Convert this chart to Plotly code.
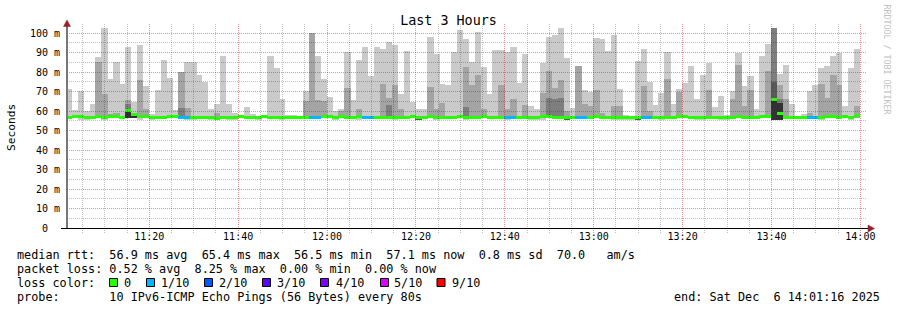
import math
import pandas as pd
import plotly.graph_objects as go

# ---------------- data ----------------
START = "2025-12-06 11:01:16"
END = "2025-12-06 14:01:16"
STEP_S = 80  # one probe round every 80 s

# highest ping of each round (outer smoke band)
ping_max = [
    71.5, 60.3, 70.1, 59.8, 63.7, 87.9, 102.8, 76.6, 85.0, 74.0,
    93.0, 64.4, 94.0, 73.0, 58.4, 70.6, 86.4, 77.1, 60.3, 80.0,
    85.0, 85.0, 78.7, 75.0, 61.2, 63.7, 88.4, 63.7, 59.0, None,
    62.0, 58.6, 57.5, None, 88.4, 82.3, 66.3, 58.0, 58.0, None,
    70.4, 99.9, 88.0, 76.6, 67.2, 60.0, 61.0, 90.5, 65.8, 86.4,
    93.0, 78.1, 93.0, 92.0, 95.6, 94.0, 68.9, 91.0, 64.8, 61.0,
    61.0, 97.7, 89.0, 74.0, 73.5, 90.5, 101.3, 96.7, 85.3, 100.3,
    82.8, 68.9, 91.5, 91.5, 90.5, 93.0, 74.5, 89.0, 62.6, 61.0,
    84.8, 97.7, 99.2, 102.8, 87.4, 61.7, 83.3, 71.0, 70.0, 97.2,
    96.7, 91.0, 99.2, 71.5, 58.0, 57.5, 85.9, 92.0, 75.0, 63.2,
    69.4, 90.5, 63.7, 71.5, 74.5, 83.3, 66.3, 78.7, 84.8, 62.2,
    67.9, 58.0, 70.4, 90.0, 73.0, 78.1, 61.2, 88.4, 94.6, 102.8,
    79.2, 83.8, 63.7, None, 58.5, 70.4, 73.5, 82.3, 83.3, 88.0,
    90.0, 62.7, 82.3, 92.0,
]
# second highest ping (second smoke band)
ping_p9 = [
    None, None, None, None, None, 85.0, 68.9, 58.6, 59.0, None,
    65.8, None, 76.0, 61.2, None, None, None, None, None, 80.0,
    61.7, None, None, None, None, 59.0, None, None, None, None,
    None, None, None, None, None, None, None, None, None, None,
    65.0, 99.9, 65.8, 65.3, None, None, 60.0, 72.0, None, 61.0,
    None, None, None, 74.0, 66.8, 73.5, 61.0, None, None, None,
    None, 72.5, 61.0, 64.0, None, None, None, 82.8, 73.5, 78.7,
    61.2, None, None, 73.5, 61.0, 66.3, None, 63.0, None, None,
    69.4, 80.7, 72.0, 76.0, 60.0, None, 83.3, 63.7, 62.6, 71.0,
    59.0, None, 62.6, 62.6, None, None, None, 73.0, 60.0, None,
    None, 76.6, None, 70.0, None, None, None, None, 71.0, None,
    None, None, 66.3, 83.8, 62.6, 71.0, None, None, 80.7, 102.8,
    73.5, 66.3, None, None, None, 59.0, None, 74.0, 66.8, 78.7,
    73.5, None, None, 62.7,
]
# third band
ping_p8 = [
    None, None, None, None, None, None, None, None, None, None,
    63.7, None, None, None, None, None, None, None, None, 61.7,
    None, None, None, None, None, None, None, None, None, None,
    None, None, None, None, None, None, None, None, None, None,
    None, None, None, None, None, None, None, None, None, None,
    None, None, None, None, 63.2, None, None, None, None, None,
    None, None, None, None, None, None, None, 62.2, None, None,
    None, None, None, None, None, None, None, None, None, None,
    None, 66.5, 66.3, 66.8, None, None, None, None, None, None,
    None, None, None, None, None, None, None, None, None, None,
    None, None, None, None, None, None, None, None, None, None,
    None, None, None, None, None, None, None, None, None, 102.8,
    66.3, None, None, None, None, None, None, None, None, None,
    None, None, None, None,
]
# fourth band
ping_p7 = [
    None, None, None, None, None, None, None, None, None, None,
    None, None, None, None, None, None, None, None, None, None,
    None, None, None, None, None, None, None, None, None, None,
    None, None, None, None, None, None, None, None, None, None,
    None, None, None, None, None, None, None, None, None, None,
    None, None, None, None, None, None, None, None, None, 57.0,
    None, None, None, None, None, None, None, None, None, None,
    None, None, None, None, None, None, None, None, None, None,
    None, None, None, None, 57.0, None, None, None, None, None,
    None, None, None, None, None, None, 57.0, None, None, None,
    None, None, None, None, None, None, None, None, None, None,
    None, None, None, None, None, None, None, None, None, 75.0,
    None, None, None, None, None, None, None, None, None, None,
    None, None, None, None,
]
# innermost band
ping_core = [
    None, None, None, None, None, None, None, None, None, None,
    60.6, 57.6, None, None, None, None, None, None, None, None,
    None, None, None, None, None, None, None, None, None, None,
    None, None, None, None, None, None, None, None, None, None,
    None, None, None, None, None, None, None, None, None, None,
    None, None, None, None, None, None, None, None, None, None,
    None, None, None, None, None, None, None, None, None, None,
    None, None, None, None, None, None, None, None, None, None,
    None, None, None, None, None, None, None, None, None, None,
    None, None, None, None, None, None, None, None, None, None,
    None, None, None, None, None, None, None, None, None, None,
    None, None, None, None, None, None, None, None, None, 65.8,
    64.1, None, None, None, None, None, None, None, None, None,
    None, None, None, None,
]
# lowest ping (bottom of outer band)
ping_min = [
    56.2, 56.2, 55.3, 55.3, 56.2, 56.2, 55.3, 56.2, 56.2, 56.2,
    56.2, 56.2, 55.3, 56.2, 55.3, 56.2, 56.2, 56.2, 56.2, 56.2,
    55.3, 55.3, 56.2, 56.2, 55.3, 55.3, 56.2, 55.3, 55.3, 56.2,
    56.2, 56.2, 55.3, 56.2, 56.2, 56.2, 55.3, 56.2, 56.2, 56.2,
    56.2, 56.2, 56.2, 56.2, 56.2, 55.3, 56.2, 56.2, 56.2, 55.3,
    56.2, 56.2, 56.2, 56.2, 56.2, 55.3, 56.2, 56.2, 56.2, 56.2,
    56.2, 56.2, 55.3, 56.2, 56.2, 56.2, 56.2, 55.3, 56.2, 56.2,
    56.2, 56.2, 56.2, 56.2, 55.3, 56.2, 56.2, 56.2, 55.3, 55.3,
    55.3, 56.2, 56.2, 56.2, 56.2, 56.2, 56.2, 56.2, 56.2, 56.2,
    56.2, 56.2, 55.3, 55.3, 55.3, 55.3, 56.2, 56.2, 56.2, 56.2,
    55.3, 56.2, 56.2, 56.2, 56.2, 56.2, 55.3, 55.3, 56.2, 56.2,
    55.3, 55.3, 56.2, 56.2, 56.2, 56.2, 56.2, 56.2, 56.2, 56.2,
    56.2, 56.2, 56.2, 56.2, 56.2, 56.2, 56.2, 55.3, 56.2, 56.2,
    56.2, 56.2, 55.3, 56.2,
]
# bottom of the inner bands
inner_min = [
    56.2, 56.2, 56.2, 56.2, 56.2, 56.2, 56.2, 56.2, 56.2, 56.2,
    56.2, 56.2, 56.2, 56.2, 56.2, 56.2, 56.2, 56.2, 56.2, 56.2,
    56.2, 56.2, 56.2, 56.2, 56.2, 56.2, 56.2, 56.2, 56.2, 56.2,
    56.2, 56.2, 56.2, 56.2, 56.2, 56.2, 56.2, 56.2, 56.2, 56.2,
    56.2, 56.2, 56.2, 56.2, 56.2, 56.2, 56.2, 56.2, 56.2, 56.2,
    56.2, 56.2, 56.2, 56.2, 56.2, 56.2, 56.2, 56.2, 56.2, 55.3,
    56.2, 56.2, 56.2, 56.2, 56.2, 56.2, 56.2, 56.2, 56.2, 56.2,
    56.2, 56.2, 56.2, 56.2, 56.2, 56.2, 56.2, 56.2, 56.2, 56.2,
    56.2, 56.2, 56.2, 56.2, 55.3, 56.2, 56.2, 56.2, 56.2, 56.2,
    56.2, 56.2, 56.2, 56.2, 56.2, 56.2, 55.3, 56.2, 56.2, 56.2,
    56.2, 56.2, 56.2, 56.2, 56.2, 56.2, 56.2, 56.2, 56.2, 56.2,
    56.2, 56.2, 56.2, 56.2, 56.2, 56.2, 56.2, 56.2, 56.2, 55.3,
    55.3, 56.2, 56.2, 56.2, 56.2, 56.2, 56.2, 56.2, 56.2, 56.2,
    56.2, 56.2, 56.2, 56.2,
]
# median rtt (ms)
median_rtt = [
    56.6, 57.1, 57.1, 56.6, 56.6, 57.1, 56.6, 57.1, 57.1, 56.6,
    60.3, 58.2, 57.1, 57.1, 56.6, 56.6, 56.6, 57.1, 57.1, 56.6,
    56.6, 56.6, 56.6, 56.6, 56.6, 56.3, 56.6, 56.6, 56.6, 57.1,
    56.6, 56.6, 56.6, 57.1, 56.6, 56.6, 56.6, 56.6, 56.6, 56.6,
    56.6, 56.6, 56.6, 57.1, 57.1, 56.6, 57.1, 56.6, 56.6, 57.1,
    56.6, 56.6, 56.6, 56.6, 56.6, 56.6, 56.6, 56.6, 57.1, 56.6,
    56.6, 57.1, 56.6, 56.6, 56.6, 56.6, 57.1, 56.6, 56.6, 56.6,
    57.1, 56.6, 56.6, 56.6, 56.6, 56.6, 56.6, 56.6, 56.6, 56.6,
    57.1, 57.1, 56.6, 56.6, 56.6, 56.6, 56.6, 56.6, 56.6, 57.1,
    56.6, 56.6, 56.6, 56.6, 56.6, 56.6, 56.6, 56.6, 56.6, 56.6,
    56.6, 56.6, 56.6, 57.1, 57.1, 56.6, 56.6, 56.6, 56.6, 56.6,
    56.6, 56.6, 56.6, 57.1, 56.6, 56.6, 56.6, 57.1, 57.1, 65.8,
    58.5, 56.6, 56.6, 56.6, 56.6, 56.6, 56.6, 56.6, 57.1, 57.1,
    56.6, 57.1, 56.6, 57.6,
]
# lost pings per round (out of 10)
loss_tenths = [
    0, 0, 0, 0, 0, 0, 0, 0, 0, 0,
    0, 0, 0, 0, 0, 0, 0, 0, 0, 1,
    1, 0, 0, 0, 0, 0, 0, 0, 0, 0,
    0, 0, 0, 0, 0, 0, 0, 0, 0, 0,
    0, 1, 1, 0, 0, 0, 0, 0, 0, 0,
    1, 1, 0, 0, 0, 0, 0, 0, 0, 0,
    0, 0, 0, 0, 0, 0, 0, 0, 0, 0,
    0, 0, 0, 0, 1, 1, 0, 0, 0, 0,
    0, 0, 0, 0, 0, 0, 1, 1, 0, 0,
    0, 0, 0, 0, 0, 0, 0, 1, 1, 0,
    0, 0, 0, 0, 0, 0, 0, 0, 0, 0,
    0, 0, 0, 0, 0, 0, 0, 0, 0, 0,
    0, 0, 0, 0, 0, 1, 1, 0, 0, 0,
    0, 0, 0, 0,
]

loss_labels = ["0", "1/10", "2/10", "3/10", "4/10", "5/10", "9/10"]
loss_levels = [0, 1, 2, 3, 4, 5, 9]
loss_colors = ["#26ff00", "#00b8ff", "#0059ff", "#5e00ff", "#7e00ff", "#dd00ff", "#ff0000"]

y_tick_vals = [0, 10, 20, 30, 40, 50, 60, 70, 80, 90, 100]
y_tick_text = ["0\u00a0\u00a0", "10 m", "20 m", "30 m", "40 m", "50 m",
               "60 m", "70 m", "80 m", "90 m", "100 m"]

smoke_colors = ["#cacaca", "#a4a4a4", "#7e7e7e", "#585858", "#323232"]

title_text = "Last 3 Hours"
y_title = "Seconds"
watermark = "RRDTOOL / TOBI OETIKER"
line_rtt = "median rtt:  56.9 ms avg  65.4 ms max  56.5 ms min  57.1 ms now  0.8 ms sd  70.0   am/s"
line_loss = "packet loss: 0.52 % avg  8.25 % max  0.00 % min  0.00 % now"
line_color = "loss color:"
line_probe = "probe:       10 IPv6-ICMP Echo Pings (56 Bytes) every 80s"
line_end = "end: Sat Dec  6 14:01:16 2025"

n = len(ping_max)
for arr in (ping_p9, ping_p8, ping_p7, ping_core, ping_min, inner_min, median_rtt, loss_tenths):
    assert len(arr) == n, len(arr)

# ---------------- geometry ----------------
W, H = 897, 310
ML, MR, MT, MB = 66, 31, 22, 82
PW = W - ML - MR
PH = H - MT - MB
UNIT_PX = 1.95
Y_TOP = PH / UNIT_PX
Y0_PIX = H - MB  # pixel row of value 0


def px(x):
    return (x - ML) / PW


def py(y):
    return (H - MB - y) / PH


def nb(s):
    return s.replace(" ", "\u00a0")


MONO = "DejaVu Sans Mono"

t0 = pd.Timestamp(START)
t1 = pd.Timestamp(END)
span_s = (t1 - t0).total_seconds()
times = [t0 + pd.Timedelta(seconds=STEP_S * (i + 0.5)) for i in range(n)]
bar_w = STEP_S * 1000 * 1.06  # tiny overlap hides anti-aliasing seams

fig = go.Figure()


def band(tops, bases, color):
    ys = [None if (t is None) else t - b for t, b in zip(tops, bases)]
    bs = [None if (t is None) else b for t, b in zip(tops, bases)]
    fig.add_trace(go.Bar(x=times, y=ys, base=bs, width=bar_w,
                         marker=dict(color=color, line=dict(width=0)),
                         showlegend=False, hoverinfo="skip"))


band(ping_max, ping_min, smoke_colors[0])
band(ping_p9, inner_min, smoke_colors[1])
band(ping_p8, inner_min, smoke_colors[2])
band(ping_p7, inner_min, smoke_colors[3])
band(ping_core, inner_min, smoke_colors[4])

# median line, coloured by loss
color_of = dict(zip(loss_levels, loss_colors))
LW = 3 / UNIT_PX
fig.add_trace(go.Bar(
    x=times, y=[LW] * n, base=[m - LW / 2 for m in median_rtt], width=bar_w,
    marker=dict(color=[color_of[l] for l in loss_tenths], line=dict(width=0)),
    showlegend=False, hoverinfo="skip"))

shapes = []
RED = "rgba(235,0,0,0.45)"
GRAY = "rgba(0,0,0,0.24)"
DASH = "1px,1px"

# horizontal grid, drawn on top of the smoke, snapped to pixel rows
for v in range(5, 100 + 1, 5):
    yp = math.floor(Y0_PIX - v * UNIT_PX) + 0.5
    shapes.append(dict(type="line", xref="paper", yref="paper", x0=px(ML + 1), x1=1,
                       y0=py(yp), y1=py(yp),
                       line=dict(color=RED if v % 10 == 0 else GRAY, width=1, dash=DASH),
                       layer="above"))
# vertical grid (+ small ticks below the axis)
for t in pd.date_range("2025-12-06 11:05:00", "2025-12-06 14:00:00", freq="5min"):
    xp = math.floor(ML + (t - t0).total_seconds() / span_s * PW) + 0.5
    shapes.append(dict(type="line", xref="paper", yref="paper", x0=px(xp), x1=px(xp),
                       y0=py(233), y1=py(24),
                       line=dict(color=RED if t.minute % 20 == 0 else GRAY, width=1, dash=DASH),
                       layer="above"))
# axes
shapes.append(dict(type="line", xref="paper", yref="paper", x0=px(61), x1=px(868),
                   y0=py(228.5), y1=py(228.5), line=dict(color="#000000", width=1), layer="above"))
shapes.append(dict(type="line", xref="paper", yref="paper", x0=px(67), x1=px(67),
                   y0=py(228), y1=py(25), line=dict(color="#777777", width=2), layer="above"))
# arrows
ARROW = "#992020"
shapes.append(dict(type="path", xref="paper", yref="paper",
                   path=f"M {px(63.5)} {py(26.5)} L {px(70.5)} {py(26.5)} L {px(67)} {py(20)} Z",
                   fillcolor=ARROW, line=dict(color=ARROW, width=0.5), layer="above"))
shapes.append(dict(type="path", xref="paper", yref="paper",
                   path=f"M {px(868)} {py(225)} L {px(868)} {py(232)} L {px(874.5)} {py(228.5)} Z",
                   fillcolor=ARROW, line=dict(color=ARROW, width=0.5), layer="above"))

# loss colour legend boxes
box_left = [109, 146, 204, 262, 320, 380, 436.5]
label_left = [123, 160.5, 218, 276.5, 335, 393, 451.5]
for xl, c in zip(box_left, loss_colors):
    shapes.append(dict(type="rect", xref="paper", yref="paper",
                       x0=px(xl + 0.5), x1=px(xl + 8.5), y0=py(286.5), y1=py(278.5),
                       fillcolor=c, line=dict(color="#000000", width=1)))

ann = []
FS = 11.8


def text(x, y, s, size=FS, xanchor="left", angle=0, color="#000000"):
    ann.append(dict(xref="paper", yref="paper", x=px(x), y=py(y), text=nb(s),
                    showarrow=False, xanchor=xanchor, yanchor="middle", textangle=angle,
                    borderpad=0, font=dict(family=MONO, size=size, color=color)))


text(15.5, 254.5, line_rtt)
text(15.5, 268.5, line_loss)
text(15.5, 282.5, line_color)
for xl, lab in zip(label_left, loss_labels):
    text(xl - 0.5, 282.5, lab)
text(15.5, 296.5, line_probe)
text(881, 296.5, line_end, xanchor="right")
ann.append(dict(xref="paper", yref="paper", x=px(11), y=py(127), text=y_title,
                showarrow=False, textangle=-90, xanchor="center", yanchor="middle",
                font=dict(family=MONO, size=11.2, color="#000000")))
ann.append(dict(xref="paper", yref="paper", x=px(886.5), y=py(59), text=nb(watermark),
                showarrow=False, textangle=90, xanchor="center", yanchor="middle",
                font=dict(family=MONO, size=8.3, color="#c0c0c0")))

fig.update_layout(
    width=W, height=H, autosize=False,
    margin=dict(l=ML, r=MR, t=MT, b=MB, pad=0),
    paper_bgcolor="#ffffff", plot_bgcolor="#ffffff",
    barmode="overlay", bargap=0, showlegend=False,
    title=dict(text=title_text, x=0.5, xref="container", xanchor="center",
               y=1 - 20 / H, yref="container", yanchor="middle",
               font=dict(family=MONO, size=13.4, color="#000000")),
    xaxis=dict(type="date", range=[START, END], tickformat="%H:%M",
               tick0="2025-12-06 11:00:00", dtick=20 * 60 * 1000,
               showgrid=False, zeroline=False, showline=False,
               ticks="", ticklabelstandoff=1,
               tickfont=dict(family=MONO, size=10, color="#000000"),
               fixedrange=True),
    yaxis=dict(range=[0, Y_TOP], tickmode="array", tickvals=y_tick_vals, ticktext=y_tick_text,
               showgrid=False, zeroline=False, showline=False, ticks="",
               ticklabelstandoff=5,
               tickfont=dict(family=MONO, size=10, color="#000000"),
               fixedrange=True),
    shapes=shapes,
    annotations=ann,
)

fig.write_html("out.html")
